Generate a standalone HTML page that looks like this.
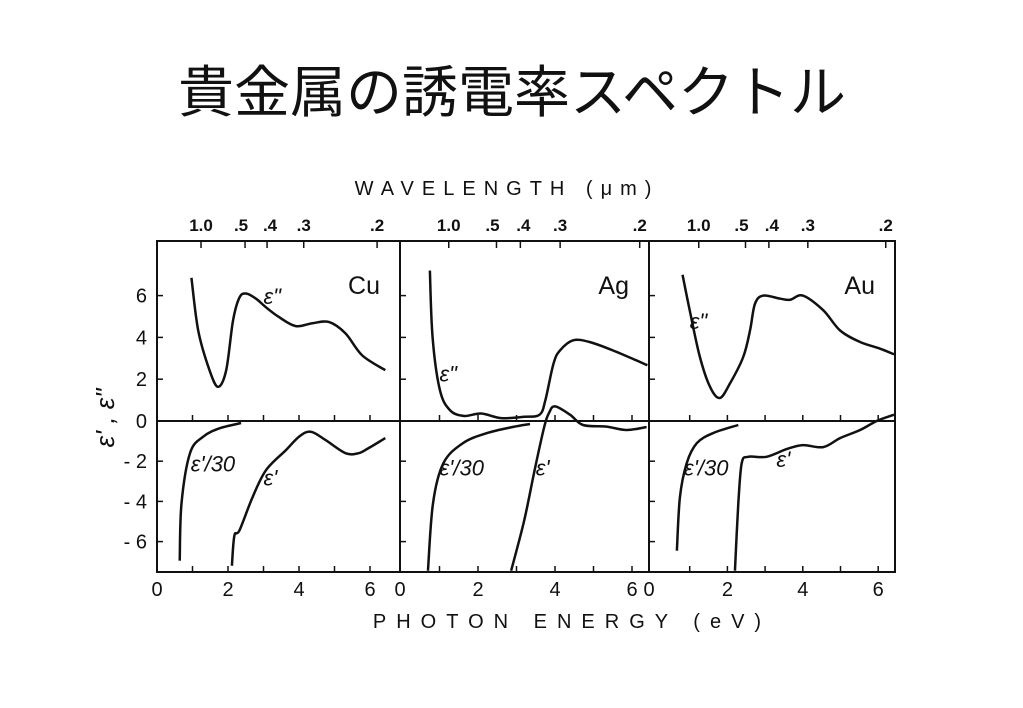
<!DOCTYPE html>
<html><head><meta charset="utf-8"><style>
html,body{margin:0;padding:0;background:#fff;width:1023px;height:708px;overflow:hidden}
svg text{font-family:"Liberation Sans","DejaVu Sans",sans-serif;fill:#111}
</style></head><body>
<svg id="chart" width="1023" height="708" viewBox="0 0 1023 708">
<text x="512" y="112" text-anchor="middle" font-size="56" style="font-family:'Liberation Sans','Noto Sans CJK JP',sans-serif">貴金属の誘電率スペクトル</text>
<text x="507" y="195" text-anchor="middle" font-size="20" letter-spacing="8">WAVELENGTH (μm)</text>
<text x="572" y="628" text-anchor="middle" font-size="20" letter-spacing="10">PHOTON ENERGY (eV)</text>
<text transform="translate(114,418) rotate(-90)" text-anchor="middle" font-size="26" font-style="italic">ε' , ε"</text>
<g id="plot"></g>
</svg>
<script>
// Panels
const metals = ["Cu","Ag","Au"];
const yTicks = [6,4,2,0,-2,-4,-6];
const xTickLabels = [0,2,4,6];
const wavelengthTicks = ["1.0",".5",".4",".3",".2"];
const wavelengthVals = [1.0,0.5,0.4,0.3,0.2];
// series data: [eV, value]
const cuEps2 = [[0.97,6.85],[1.16,4.33],[1.48,2.43],[1.72,1.63],[1.95,2.43],[2.14,4.8],[2.32,5.9],[2.51,6.1],[2.79,5.85],[3.07,5.44],[3.44,4.97],[3.91,4.54],[4.38,4.68],[4.85,4.73],[5.31,4.19],[5.78,3.14],[6.43,2.43]];
const cuEps1r = [[0.64,-6.95],[0.69,-4.1],[0.93,-1.6],[1.3,-0.78],[1.77,-0.36],[2.37,-0.1]];
const cuEps1 = [[2.11,-7.2],[2.18,-5.7],[2.32,-5.45],[2.69,-3.8],[3.07,-2.45],[3.63,-1.45],[4.0,-0.78],[4.33,-0.53],[4.75,-0.95],[5.31,-1.6],[5.68,-1.6],[5.96,-1.35],[6.43,-0.85]];
const agEps2 = [[0.75,7.2],[0.82,4.0],[1.01,1.48],[1.27,0.52],[1.64,0.24],[2.08,0.36],[2.6,0.14],[3.2,0.2],[3.6,0.3],[3.75,1.0],[3.96,2.74],[4.13,3.38],[4.47,3.86],[4.9,3.78],[5.5,3.38],[6.4,2.67]];
const agEps1r = [[0.7,-7.45],[0.83,-4.1],[1.1,-2.1],[1.61,-1.1],[2.23,-0.6],[2.9,-0.3],[3.35,-0.15]];
const agEps1 = [[2.86,-7.45],[3.2,-4.95],[3.47,-2.45],[3.72,-0.3],[3.85,0.4],[4.0,0.7],[4.39,0.3],[4.73,-0.2],[5.34,-0.28],[5.86,-0.45],[6.38,-0.3]];
const auEps2 = [[0.81,7.0],[1.0,5.3],[1.27,3.06],[1.54,1.63],[1.8,1.1],[2.07,1.8],[2.42,3.06],[2.6,4.33],[2.73,5.6],[2.95,6.0],[3.4,5.85],[3.66,5.8],[4.0,6.0],[4.54,5.3],[4.99,4.33],[5.52,3.78],[6.05,3.46],[6.42,3.19]];
const auEps1r = [[0.66,-6.45],[0.74,-3.8],[0.92,-2.1],[1.19,-1.1],[1.62,-0.6],[2.29,-0.2]];
const auEps1 = [[2.2,-7.45],[2.29,-4.1],[2.38,-2.1],[2.55,-1.78],[3.04,-1.78],[3.57,-1.4],[4.0,-1.2],[4.54,-1.3],[4.99,-0.85],[5.52,-0.45],[5.96,0],[6.42,0.3]];
const seriesSets = [[cuEps2,cuEps1r,cuEps1],[agEps2,agEps1r,agEps1],[auEps2,auEps1r,auEps1]];

const NS="http://www.w3.org/2000/svg";
const g=document.getElementById('plot');
const panels=[{l:157,r:400,x0:157,k:35.5},{l:400,r:649,x0:401,k:38.5},{l:649,r:895,x0:652,k:37.7}];
const TOP=241,BOT=572,ZERO=421;
function yS(v){return v>=0?ZERO-v*20.9:ZERO-v*20.1;}
function mk(tag,attrs){const e=document.createElementNS(NS,tag);for(const a in attrs)e.setAttribute(a,attrs[a]);g.appendChild(e);return e;}
function pathFrom(pts){let d='M'+pts[0][0]+','+pts[0][1];for(let i=0;i<pts.length-1;i++){const p0=pts[i-1]||pts[i],p1=pts[i],p2=pts[i+1],p3=pts[i+2]||p2;
 const c1x=p1[0]+(p2[0]-p0[0])/6,c1y=p1[1]+(p2[1]-p0[1])/6,c2x=p2[0]-(p3[0]-p1[0])/6,c2y=p2[1]-(p3[1]-p1[1])/6;
 d+=` C${c1x.toFixed(1)},${c1y.toFixed(1)} ${c2x.toFixed(1)},${c2y.toFixed(1)} ${p2[0].toFixed(1)},${p2[1].toFixed(1)}`;}return d;}
const labelPos=[
 [["ε\"",3.0,5.6],["ε'/30",0.95,-2.5],["ε'",3.0,-3.2]],
 [["ε\"",1.0,1.9],["ε'/30",1.0,-2.7],["ε'",3.5,-2.7]],
 [["ε\"",1.0,4.4],["ε'/30",0.85,-2.7],["ε'",3.3,-2.3]]];
const seriesNames=["eps2","eps1-over-30","eps1"];
panels.forEach((p,pi)=>{
 const xS=e=>p.x0+e*p.k;
 const fr=mk('rect',{x:p.l,y:TOP,width:p.r-p.l,height:BOT-TOP,fill:'none',stroke:'#111','stroke-width':2});
 
 
 const zl=mk('line',{x1:p.l,x2:p.r,y1:ZERO,y2:ZERO,stroke:'#111','stroke-width':2});
 
 
 for(let e=1;e<=6;e++){const x=xS(e);
  const t=mk('line',{x1:x,x2:x,y1:BOT,y2:BOT-6,stroke:'#111','stroke-width':1.5});
  
  
  const t2=mk('line',{x1:x,x2:x,y1:ZERO,y2:ZERO-6,stroke:'#111','stroke-width':1.5});
  
  }
 xTickLabels.forEach(v=>{if(pi>0&&v===0)return;let x=xS(v);
  const t=mk('text',{x:x,y:596,'text-anchor':'middle','font-size':20});t.textContent=String(v);
  
  });
 if(pi>0){const t=mk('text',{x:p.l,y:596,'text-anchor':'middle','font-size':20});t.textContent='0';
  
  }
 yTicks.forEach(v=>{if(v===0)return;const y=yS(v);
  const t=mk('line',{x1:p.l,x2:p.l+6,y1:y,y2:y,stroke:'#111','stroke-width':1.5});
  
  });
 wavelengthVals.forEach((w,wi)=>{const x=xS(1.24/w);
  const t=mk('line',{x1:x,x2:x,y1:TOP,y2:TOP+7,stroke:'#111','stroke-width':1.5});
  
  
  const tl=mk('text',{x:x+(wi===1?-4:wi===2?3:0),y:231,'text-anchor':'middle','font-size':17,'font-weight':'bold'});tl.textContent=wavelengthTicks[wi];
  
  });
 const ml=mk('text',{x:p.r-20,y:294,'text-anchor':'end','font-size':25});ml.textContent=metals[pi];
 
 
 seriesSets[pi].forEach((s,si)=>{
  const pts=s.map(d=>[xS(d[0]),yS(d[1])]);
  const path=mk('path',{d:pathFrom(pts),fill:'none',stroke:'#111','stroke-width':2.5,'stroke-linejoin':'round'});
  
  
  const lp=labelPos[pi][si];
  const lt=mk('text',{x:xS(lp[1]),y:yS(lp[2]),'font-size':22,'font-style':'italic'});lt.textContent=lp[0];
  
  });
});
yTicks.forEach(v=>{const t=mk('text',{x:147,y:yS(v)+7,'text-anchor':'end','font-size':20});t.textContent=v<0?'- '+(-v):String(v);
 
 });
</script>
</body></html>
